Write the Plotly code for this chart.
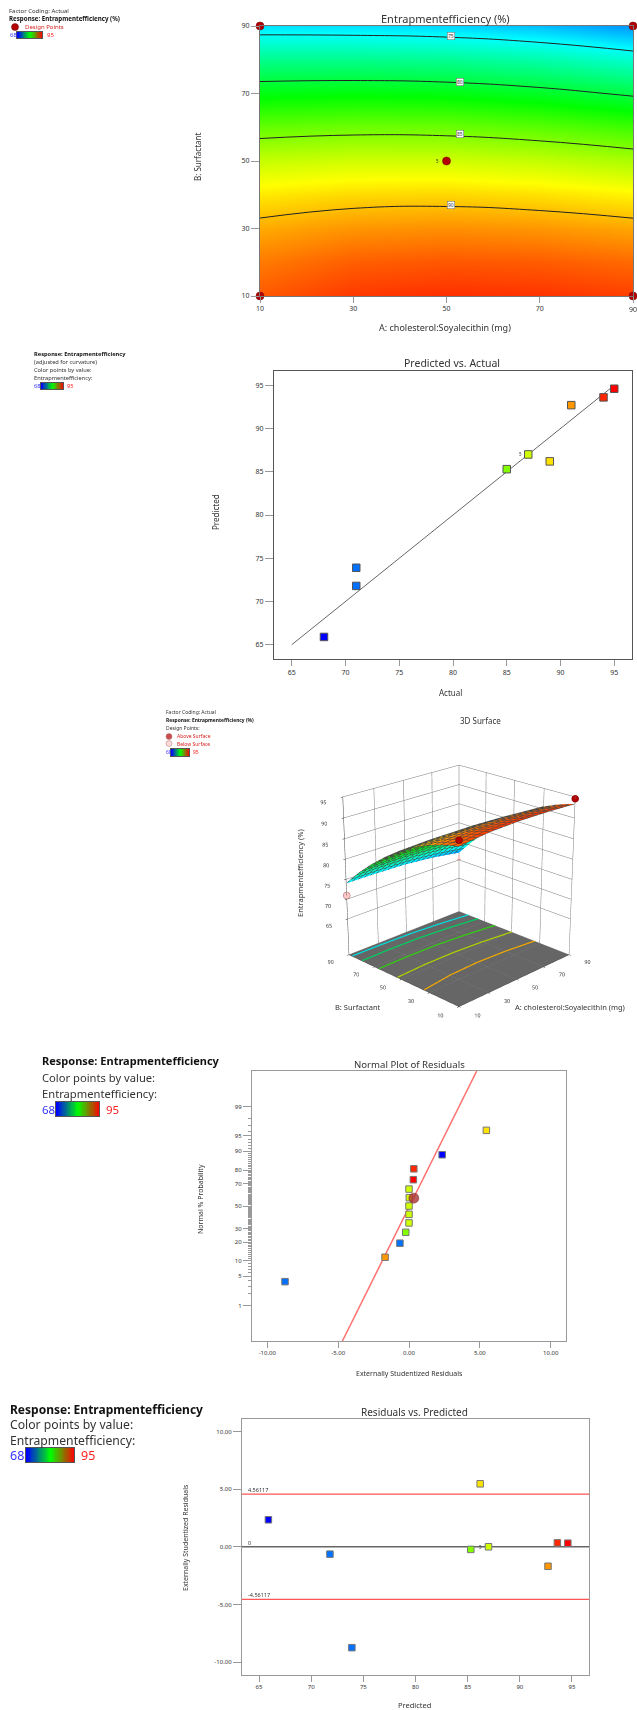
from statistics import NormalDist
import plotly.graph_objects as go

W, H = 637, 1710
FONT = "Noto Sans"
TEXT = "#333333"

A_LEVELS = [10, 30, 50, 70, 90]
B_LEVELS = [10, 20, 30, 40, 50, 60, 70, 80, 90]
EFFICIENCY = [
    [92.67, 93.52, 93.77, 93.67, 93.37],
    [91.76, 92.51, 92.71, 92.58, 92.21],
    [90.52, 91.09, 91.24, 91.06, 90.64],
    [88.84, 89.26, 89.34, 89.07, 88.54],
    [86.74, 87.04, 87.04, 86.69, 86.04],
    [84.13, 84.39, 84.31, 83.86, 83.11],
    [81.18, 81.33, 81.18, 80.63, 79.73],
    [77.85, 77.87, 77.67, 77.07, 76.07],
    [73.99, 73.91, 73.69, 73.04, 71.94],
]
DESIGN_A = [10, 90, 10, 90, 50]
DESIGN_B = [10, 10, 90, 90, 50]
CONTOUR_LABELS = ["75", "80", "85", "90"]
CONTOUR_LABEL_A = [51, 53, 53, 51]
CONTOUR_LABEL_B = [87, 73.5, 58, 37]

FLOOR_Z = 55.8
FLOOR_COLORS = ["#00dcdc", "#00d060", "#30d010", "#b0d000", "#f0a800"]
FLOOR_B = [
    [87.3, 87.2, 86.6, 85.0, 82.5],
    [79.5, 79.8, 79.3, 77.6, 75.0],
    [66.6, 66.9, 66.4, 64.7, 62.1],
    [52.8, 53.8, 53.6, 52.2, 49.8],
    [33.7, 36.2, 36.8, 35.7, 33.4],
]

ACTUAL = [68, 71, 71, 85, 87, 89, 91, 94, 95]
PREDICTED = [65.9, 71.8, 73.9, 85.3, 87.0, 86.2, 92.7, 93.6, 94.6]
RESIDUAL = [2.34, -0.64, -8.75, -0.23, 0.0, 5.46, -1.69, 0.34, 0.31]
DIAGONAL = [65, 95]

NORMAL_RES = [-8.75, -1.69, -0.64, -0.23, 0, 0, 0, 0.02, 0, 0.31, 0.34, 2.34, 5.46]
NORMAL_PROB = [3.85, 11.54, 19.23, 26.92, 34.62, 42.31, 50, 57.69, 65.38, 73.08, 80.77, 88.46, 96.15]
NORMAL_COLOR = [71, 91, 71, 85, 87, 87, 87, 87, 87, 95, 94, 68, 89]
NORMAL_LINE_RES = [-4.7, 4.78]
NORMAL_LINE_PROB = [0.08, 99.92]
PROB_TICKS = [1, 5, 10, 20, 30, 50, 70, 80, 90, 95, 99]
LIMIT = 4.56117

SURFACE_ABOVE_A = [10, 90]
SURFACE_ABOVE_B = [10, 10]
SURFACE_ABOVE_Z = [94.0, 94.6]
SURFACE_BELOW_A = [90, 10]
SURFACE_BELOW_B = [90, 90]
SURFACE_BELOW_Z = [71, 71]

BAR_VALUES = list(range(68, 96))

SCALE = [[0, "#0000ff"], [0.25, "#00ffff"], [0.5, "#00ff00"], [0.75, "#ffff00"], [1, "#ff0000"]]
BAR_SCALE = [[0, "#0000ff"], [0.5, "#00ff00"], [1, "#ff0000"]]


def probit(p):
    return NormalDist().inv_cdf(p / 100)


def px(x):
    return x / W


def py(y):
    return 1 - y / H


fig = go.Figure()
annotations = []


def label(text, x, y, size=6, color=TEXT, bold=False, anchor="left", angle=0):
    annotations.append(dict(
        text=f"<b>{text}</b>" if bold else text, x=px(x), y=py(y), xref="paper", yref="paper",
        showarrow=False, xanchor=anchor, yanchor="middle", textangle=angle,
        font=dict(family=FONT, size=size, color=color),
    ))


def axis_style(rng, x0, x1, tickvals=None, ticktext=None, size=7, ticklen=7, line="#777777", lw=1):
    return dict(
        domain=[x0, x1], range=rng, tickvals=tickvals, ticktext=ticktext,
        showgrid=False, zeroline=False, showline=True, mirror=True, linecolor=line, linewidth=lw,
        ticks="outside", ticklen=ticklen, tickcolor="#999999", tickwidth=1,
        tickfont=dict(family=FONT, size=size, color=TEXT),
    )


layout = {}


def place(n, box, xr, yr, xt, yt, xtext=None, ytext=None, size=7, visible=True, line="#777777", lw=1):
    x0, x1, y0, y1 = box
    xa = axis_style(xr, px(x0), px(x1), xt, xtext, size, 6, line, lw)
    ya = axis_style(yr, py(y1), py(y0), yt, ytext, size, 8, line, lw)
    xa["anchor"] = f"y{n}"
    ya["anchor"] = f"x{n}"
    if not visible:
        for a in (xa, ya):
            a.update(ticks="", showticklabels=False, tickvals=[], linecolor="#555555")
    layout[f"xaxis{n}"] = xa
    layout[f"yaxis{n}"] = ya


# ---- Panel 1: contour
place(1, (260, 633, 26, 296), [10, 90], [10, 90], A_LEVELS, A_LEVELS)
fig.add_trace(go.Heatmap(x=A_LEVELS, y=B_LEVELS, z=EFFICIENCY, zsmooth="best", zmin=68, zmax=95,
                         colorscale=SCALE, showscale=False, xaxis="x1", yaxis="y1"))
fig.add_trace(go.Contour(x=A_LEVELS, y=B_LEVELS, z=EFFICIENCY, showscale=False, xaxis="x1", yaxis="y1",
                         contours=dict(coloring="none", start=75, end=90, size=5),
                         line=dict(color="#222222", width=1, smoothing=1.3)))
fig.add_trace(go.Scatter(x=DESIGN_A, y=DESIGN_B, mode="markers", cliponaxis=False, xaxis="x1", yaxis="y1",
                         marker=dict(symbol="circle", size=8, color="#b30000", line=dict(color="#700000", width=0.5))))
for t, a, b in zip(CONTOUR_LABELS, CONTOUR_LABEL_A, CONTOUR_LABEL_B):
    annotations.append(dict(text=t, x=a, y=b, xref="x1", yref="y1", showarrow=False,
                            font=dict(family=FONT, size=5, color="#333333"), bgcolor="#ffffff",
                            bordercolor="#666666", borderwidth=0.5, borderpad=0.5))
label("Entrapmentefficiency (%)", 445, 19, 11, anchor="center")
label("A: cholesterol:Soyalecithin (mg)", 445, 328, 9, anchor="center")
label("B: Surfactant", 198, 157, 8, anchor="center", angle=-90)
label("5", 438, 161, 4.5, anchor="center")
label("90", 633, 309, 7, anchor="center")
label("Factor Coding: Actual", 7, 11, 6)
label("Response: Entrapmentefficiency (%)", 7, 19, 6.2, bold=True, color="#111111")
label("Design Points", 23, 27, 6, color="#d62020")
label("68", 8, 35, 6, color="#3333ff")
label("95", 45, 35, 6, color="#ff2020")

# ---- Panel 2: predicted vs actual
place(2, (274, 632, 371, 659), [63.35, 96.65], [63.35, 96.65], list(range(65, 96, 5)), list(range(65, 96, 5)),
      line="#555555", lw=1.3)
fig.add_trace(go.Scatter(x=DIAGONAL, y=DIAGONAL, mode="lines", xaxis="x2", yaxis="y2",
                         line=dict(color="#666666", width=1)))
fig.add_trace(go.Scatter(x=ACTUAL, y=PREDICTED, mode="markers", xaxis="x2", yaxis="y2",
                         marker=dict(symbol="square", size=7.5, color=ACTUAL, cmin=68, cmax=95, colorscale=SCALE,
                                     line=dict(color="#555555", width=1))))
label("Predicted vs. Actual", 452, 363, 10.5, anchor="center")
label("Actual", 450, 693, 8, anchor="center")
label("Predicted", 215, 512, 8, anchor="center", angle=-90)
label("5", 520, 454, 4.5, anchor="center")
label("Response: Entrapmentefficiency", 32, 354, 5.7, bold=True, color="#111111")
label("(adjusted for curvature)", 32, 362, 5.7)
label("Color points by value:", 32, 370, 5.7)
label("Entrapmentefficiency:", 32, 378, 5.7)
label("68", 32, 386, 5.7, color="#3333ff")
label("95", 65, 386, 5.7, color="#ff2020")

# ---- Panel 3: 3D surface
fig.add_trace(go.Surface(
    x=A_LEVELS, y=B_LEVELS, z=EFFICIENCY, cmin=68, cmax=95, colorscale=SCALE, showscale=False, scene="scene",
    contours=dict(
        x=dict(show=True, start=10, end=90, size=4, color="#444444", width=1),
        y=dict(show=True, start=10, end=90, size=4, color="#444444", width=1),
    ),
    lighting=dict(ambient=1, diffuse=0, specular=0, roughness=1, fresnel=0), hoverinfo="skip",
))
for b_line, color in zip(FLOOR_B, FLOOR_COLORS):
    fig.add_trace(go.Scatter3d(x=A_LEVELS, y=b_line, z=[FLOOR_Z] * len(A_LEVELS), mode="lines", scene="scene",
                               line=dict(color=color, width=2.5), hoverinfo="skip"))
fig.add_trace(go.Scatter3d(x=SURFACE_ABOVE_A, y=SURFACE_ABOVE_B, z=SURFACE_ABOVE_Z, mode="markers", scene="scene",
                           marker=dict(size=4, color="#b30000", line=dict(color="#700000", width=1))))
fig.add_trace(go.Scatter3d(x=SURFACE_BELOW_A, y=SURFACE_BELOW_B, z=SURFACE_BELOW_Z, mode="markers", scene="scene",
                           marker=dict(size=4, color="#ffc8c8", line=dict(color="#aa6666", width=1))))
scene_axis = dict(showbackground=True, backgroundcolor="#ffffff", gridcolor="#777777", gridwidth=1,
                  linecolor="#444444", linewidth=1, showline=True, zeroline=False, ticks="outside", ticklen=2,
                  tickcolor="#222222", tickfont=dict(family=FONT, size=8, color=TEXT), showspikes=False,
                  tickangle=0, title=dict(text=""))
layout["scene"] = dict(
    domain=dict(x=[px(281), px(637)], y=[py(1348), py(408)]),
    aspectmode="manual", aspectratio=dict(x=1, y=1, z=1.06),
    camera=dict(eye=dict(x=-4.67, y=-4.67, z=2.6), center=dict(x=0, y=0, z=0), up=dict(x=0, y=0, z=1)),
    xaxis=dict(scene_axis, range=[10, 90], tickvals=A_LEVELS),
    yaxis=dict(scene_axis, range=[10, 90], tickvals=A_LEVELS),
    zaxis=dict(scene_axis, range=[55.7, 95], tickvals=[65, 70, 75, 80, 85, 90, 95], backgroundcolor="#666666"),
)
label("3D Surface", 480, 720, 8, anchor="center")
label("A: cholesterol:Soyalecithin (mg)", 513, 1007, 7.5)
label("B: Surfactant", 358, 1007, 7.5, anchor="center")
label("Entrapmentefficiency (%)", 300, 873, 7.5, anchor="center", angle=-90)
label("Factor Coding: Actual", 164, 712, 5)
label("Response: Entrapmentefficiency (%)", 164, 720, 4.9, bold=True, color="#111111")
label("Design Points:", 164, 728, 5)
label("Above Surface", 175, 736, 5, color="#d62020")
label("Below Surface", 175, 744, 5, color="#d62020")
label("68", 164, 752, 5, color="#3333ff")
label("95", 191, 752, 5, color="#ff2020")
fig.add_trace(go.Scatter(x=[0, 0], y=[1, 0], mode="markers", xaxis="x9", yaxis="y9", cliponaxis=False,
                         marker=dict(size=[6, 6], color=["#b30000", "#ffc8c8"], line=dict(color="#884444", width=0.5))))
place(9, (165, 173, 733, 747), [-1, 1], [-0.5, 1.5], [], [], visible=False)
layout["xaxis9"].update(visible=False)
layout["yaxis9"].update(visible=False)

# ---- Panel 4: normal plot
res_ticks = [-10, -5, 0, 5, 10]
res_text = ["-10.00", "-5.00", "0.00", "5.00", "10.00"]
place(4, (252, 566, 1071, 1341), [-11.08, 11.08], [probit(0.08), probit(99.92)], res_ticks,
      [probit(p) for p in PROB_TICKS], res_text, [str(p) for p in PROB_TICKS], size=6, line="#999999", lw=1.3)
layout["yaxis4"]["minor"] = dict(tickvals=[probit(p) for p in range(2, 99) if p not in PROB_TICKS],
                                 ticks="outside", ticklen=3, tickcolor="#999999", tickwidth=0.7)
fig.add_trace(go.Scatter(x=NORMAL_LINE_RES, y=[probit(p) for p in NORMAL_LINE_PROB], mode="lines",
                         xaxis="x4", yaxis="y4", line=dict(color="#ff7070", width=1.5)))
fig.add_trace(go.Scatter(x=NORMAL_RES, y=[probit(p) for p in NORMAL_PROB], mode="markers", xaxis="x4", yaxis="y4",
                         marker=dict(symbol="square", size=6.5, color=NORMAL_COLOR, cmin=68, cmax=95, colorscale=SCALE,
                                     line=dict(color="#777777", width=1))))
fig.add_trace(go.Scatter(x=[0.34], y=[probit(57.3)], mode="markers", xaxis="x4", yaxis="y4",
                         marker=dict(symbol="circle", size=10, color="rgba(170,50,50,0.8)", line=dict(color="#773333", width=0.5))))
label("Normal Plot of Residuals", 409, 1064, 9.6, anchor="center")
label("Externally Studentized Residuals", 409, 1373, 7, anchor="center")
label("Normal % Probability", 200, 1199, 7, anchor="center", angle=-90)
label("Response: Entrapmentefficiency", 40, 1060, 11, bold=True, color="#111111")
label("Color points by value:", 40, 1077, 11.2)
label("Entrapmentefficiency:", 40, 1093, 11.2)
label("68", 40, 1109, 11.5, color="#3333ff")
label("95", 104, 1109, 11.5, color="#ff2020")

# ---- Panel 5: residuals vs predicted
y_ticks = [-10, -5, 0, 5, 10]
place(5, (242, 589, 1419, 1675), [63.37, 96.63], [-11.12, 11.08], list(range(65, 96, 5)), y_ticks,
      None, res_text, size=6, line="#999999", lw=1.3)
for level, color, width in [(LIMIT, "#ff5555", 1.3), (-LIMIT, "#ff5555", 1.3), (0, "#666666", 1.6)]:
    fig.add_trace(go.Scatter(x=[63.37, 96.63], y=[level, level], mode="lines", xaxis="x5", yaxis="y5",
                             line=dict(color=color, width=width)))
fig.add_trace(go.Scatter(x=PREDICTED, y=RESIDUAL, mode="markers", xaxis="x5", yaxis="y5",
                         marker=dict(symbol="square", size=6.5, color=ACTUAL, cmin=68, cmax=95, colorscale=SCALE,
                                     line=dict(color="#777777", width=1))))
label("Residuals vs. Predicted", 414, 1412, 10, anchor="center")
label("Predicted", 414, 1705, 7.5, anchor="center")
label("Externally Studentized Residuals", 185, 1538, 7, anchor="center", angle=-90)
label("4.56117", 246, 1490, 5.5)
label("0", 246, 1543, 5.5)
label("-4.56117", 246, 1595, 5.5)
label("5", 480, 1547, 4.5, anchor="center")
label("Response: Entrapmentefficiency", 8, 1409, 12, bold=True, color="#111111")
label("Color points by value:", 8, 1424, 12.2)
label("Entrapmentefficiency:", 8, 1440, 12.2)
label("68", 8, 1455, 12.5, color="#3333ff")
label("95", 79, 1455, 12.5, color="#ff2020")

# ---- Colour bars in the legends
bars = [(10, (17, 42, 32, 38)), (11, (41, 63, 383, 389)), (12, (171, 189, 749, 756)),
        (13, (56, 99, 1102, 1116)), (14, (26, 74, 1448, 1462))]
for n, box in bars:
    place(n, box, [68, 95], [-0.5, 0.5], [], [], visible=False)
    fig.add_trace(go.Heatmap(x=BAR_VALUES, y=[0], z=[BAR_VALUES], zsmooth="best", zmin=68, zmax=95,
                             colorscale=BAR_SCALE, showscale=False, xaxis=f"x{n}", yaxis=f"y{n}"))
fig.add_trace(go.Scatter(x=[0], y=[0], mode="markers", xaxis="x15", yaxis="y15", cliponaxis=False,
                         marker=dict(size=7, color="#b30000", line=dict(color="#700000", width=0.5))))
place(15, (11, 19, 23, 31), [-1, 1], [-1, 1], [], [], visible=False)
layout["xaxis15"].update(visible=False)
layout["yaxis15"].update(visible=False)

fig.update_layout(
    width=W, height=H, margin=dict(l=0, r=0, t=0, b=0, autoexpand=False), showlegend=False,
    paper_bgcolor="#ffffff", plot_bgcolor="#ffffff", annotations=annotations, **layout,
)
fig.write_html("out.html", post_script="document.body.style.margin='0';", config={"displayModeBar": False})
